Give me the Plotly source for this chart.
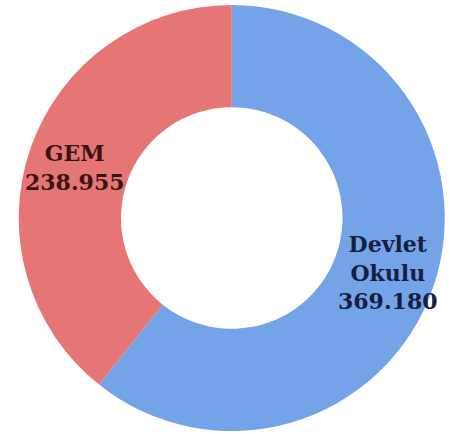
import plotly.graph_objects as go

labels = ["Devlet<br>Okulu", "GEM"]
values = [369180, 238955]
value_text = ["369.180", "238.955"]
colors = ["#74a3e8", "#e67676"]
text_colors = ["#15203f", "#3a1414"]
label_pos = [(0.862, 0.373), (0.167, 0.615)]

fig = go.Figure(go.Pie(
    labels=labels,
    values=values,
    hole=0.52,
    sort=False,
    direction="clockwise",
    rotation=0,
    marker=dict(colors=colors, line=dict(width=0)),
    textinfo="none",
    showlegend=False,
    hoverinfo="skip",
    domain=dict(x=[0.035, 0.995], y=[0.0069, 0.9885]),
))

for lab, val, col, (px, py) in zip(labels, value_text, text_colors, label_pos):
    fig.add_annotation(
        x=px, y=py, xref="paper", yref="paper",
        xanchor="center", yanchor="middle",
        text=f"<b>{lab}<br>{val}</b>",
        showarrow=False, align="center",
        font=dict(family="DejaVu Serif", size=22, color=col),
    )

fig.update_layout(
    width=450, height=434,
    margin=dict(l=0, r=0, t=0, b=0),
    paper_bgcolor="white",
    plot_bgcolor="white",
)

fig.write_html("out.html", config={"displayModeBar": False},
               post_script="document.body.style.margin='0';")
